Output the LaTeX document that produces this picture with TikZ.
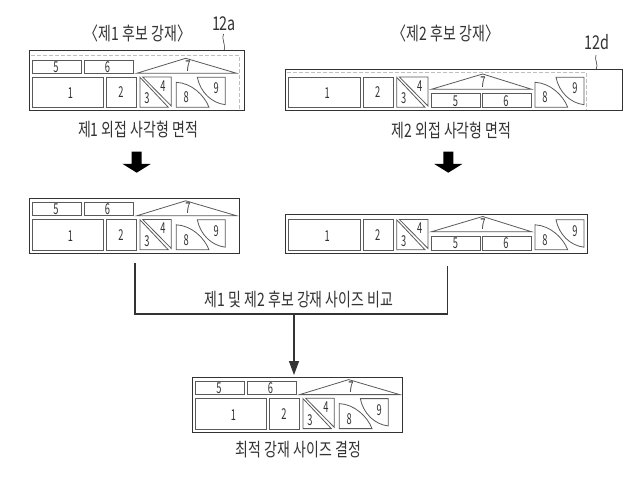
\documentclass[tikz,border=0pt]{standalone}
\usepackage{fontspec}
\setmainfont{Noto Sans CJK KR}[FakeStretch=0.755]
\newfontfamily\numfont{Noto Sans CJK KR}[FakeStretch=0.62]
\usetikzlibrary{arrows.meta}
\definecolor{ink}{HTML}{333333}
\definecolor{part}{HTML}{5A5A5A}
\tikzset{
  x=1pt,y=-1pt,
  outerbox/.style={draw=ink,line width=1pt},
  partline/.style={draw=part,line width=.8pt,line join=miter},
  dashline/.style={draw=black!25,line width=.5pt,dash pattern=on 4pt off 2pt},
  captext/.style={font=\fontsize{18.5}{19}\selectfont,text=ink,inner sep=0pt},
  num/.style={font=\numfont\fontsize{15}{16}\selectfont,text=ink,inner sep=0pt},
  reftext/.style={font=\fontsize{19}{20}\selectfont,text=ink,inner sep=0pt},
  conn/.style={draw=ink,line width=1.3pt},
  blockarrow/.style={fill=black,draw=none},
}
% common parts 1,2,3,4,8,9 : #1 = x offset of part 1 left
\newcommand{\partsLow}[1]{%
  \begin{scope}[shift={(#1,0)}]
    \draw[partline] (0,77.3) rectangle (71.7,107.7);
    \node[num] at (38.5,93.5) {1};
    \draw[partline] (74.7,77.3) rectangle (104.7,107.7);
    \node[num] at (89,92.5) {2};
    \draw[partline] (108,77.3) -- (108,107.3) -- (136.3,107.3) -- cycle;
    \node[num] at (115,98.5) {3};
    \draw[partline] (110.7,77) -- (139.3,77) -- (139.3,106) -- cycle;
    \node[num] at (131,86) {4};
  \end{scope}}
\newcommand{\partsArc}[1]{%
  \begin{scope}[shift={(#1,0)}]
    \draw[partline] (0,82.3) .. controls (15,83) and (28,95) .. (32.7,107.3) -- (0,107.3) -- cycle;
    \node[num] at (10,97.5) {8};
    \draw[partline] (21,77.3) -- (49,77.3) -- (49,104.7) .. controls (35,103) and (24,92) .. cycle;
    \node[num] at (40,88.5) {9};
  \end{scope}}
% layout 1: parts 5 6 on top, 7 beside them
\newcommand{\layoutA}{%
  \partsLow{32}
  \draw[partline] (32.3,60) rectangle (81,73.3);
  \node[num] at (56,67) {5};
  \draw[partline] (84,60) rectangle (133.3,73.3);
  \node[num] at (107.5,67) {6};
  \draw[partline] (136.7,73.3) -- (185.7,58.3) -- (236.7,73.3) -- cycle;
  \node[num] at (188,66) {7};
  \partsArc{176.3}}
% layout 2: 7 over 5 6
\newcommand{\layoutB}{%
  \partsLow{288.7}
  \draw[partline] (431.3,89.3) -- (482.7,74) -- (531.7,89.3) -- cycle;
  \node[num] at (483,82) {7};
  \draw[partline] (431.3,93.7) rectangle (480,107.7);
  \node[num] at (455.5,101) {5};
  \draw[partline] (482.7,93.7) rectangle (531.7,107.7);
  \node[num] at (506,101) {6};
  \partsArc{535}}
\begin{document}
\begin{tikzpicture}
\useasboundingbox (0,0) rectangle (640,478);
\fill[white] (0,0) rectangle (640,478);

% titles
\node[captext] (t1) at (138,33) {〈제1 후보 강재〉};
\node[captext] (t2) at (446,33) {〈제2 후보 강재〉};
\node[reftext] (l12a) at (224,23.5) {12a};
\node[reftext] (l12d) at (597,42) {12d};
\draw[draw=ink,line width=.6pt] (223.5,34) .. controls (221,39) and (226,43) .. (224,51);
\draw[draw=ink,line width=.6pt] (596,55) .. controls (594,60) and (599,64) .. (596,70);

% top left
\draw[outerbox] (29,51) rectangle (244,110.7);
\draw[dashline] (31,55.7) -- (239.3,55.7) -- (239.3,110);
\layoutA
\node[captext] (c1) at (138,130) {제1 외접 사각형 면적};

% top right
\draw[outerbox] (285.7,69.5) rectangle (622.3,110.7);
\draw[dashline] (287,72) -- (586,72) -- (586,110);
\layoutB
\node[captext] (c2) at (451.5,131) {제2 외접 사각형 면적};

% block arrows
\fill[blockarrow] (131.7,151.7) -- (141.7,151.7) -- (141.7,164) -- (150.7,164) -- (136.7,172.7) -- (122.7,164) -- (131.7,164) -- cycle;
\fill[blockarrow] (443.3,151.7) -- (453.3,151.7) -- (453.3,164) -- (462.3,164) -- (448.3,172.7) -- (434.3,164) -- (443.3,164) -- cycle;

% middle left
\draw[outerbox] (29,198.7) rectangle (239.3,253.3);
\begin{scope}[yshift=-142.5pt]\layoutA\end{scope}

% middle right
\draw[outerbox] (285.7,214.3) rectangle (587,253.3);
\begin{scope}[yshift=-142.5pt]\layoutB\end{scope}

% comparison connector
\coordinate (a) at (135,263.3);
\coordinate (b) at (447.3,266);
\coordinate (j) at (294,314);
\coordinate (e) at (294,375);
\draw[conn] (a) |- (j) -| (b);
\draw[conn,-{Triangle[length=14pt,width=10pt]}] (j) -- (e);
\node[captext] (c3) at (299,300) {제1 및 제2 후보 강재 사이즈 비교};

% bottom
\draw[outerbox] (192,377.7) rectangle (402.3,432.7);
\begin{scope}[xshift=163pt,yshift=-321.3pt]\layoutA\end{scope}
\node[captext] (c4) at (298.5,450) {최적 강재 사이즈 결정};
\end{tikzpicture}
\end{document}
